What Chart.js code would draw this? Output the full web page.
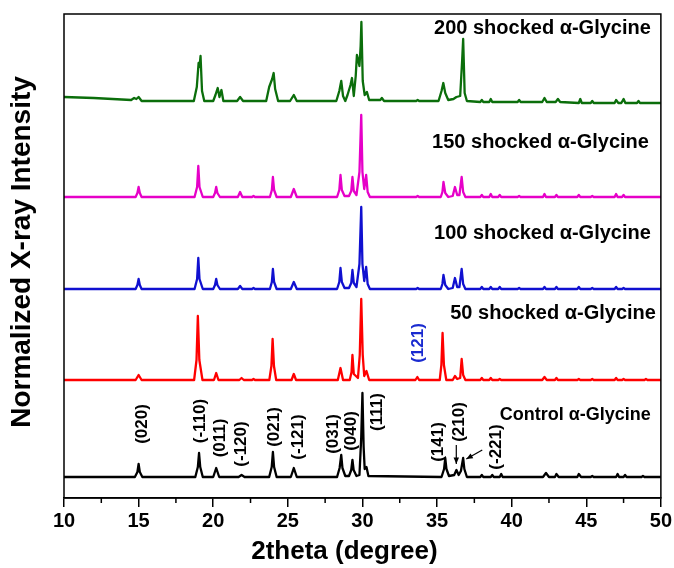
<!DOCTYPE html>
<html>
<head>
<meta charset="utf-8">
<title>XRD shocked alpha-Glycine</title>
<script src="https://cdn.jsdelivr.net/npm/chart.js"></script>
<style>
  html, body { margin: 0; padding: 0; background: #fff; }
</style>
</head>
<body>
<canvas id="xrdChart" width="674" height="568"></canvas>
<script>
// [2theta, intensity above own baseline]
const control = [[10,0],[14.75,0],[14.92,5],[15.0,13],[15.08,5],[15.25,0],
  [18.8,0],[18.97,10],[19.05,24],[19.13,10],[19.3,0],[20.0,0],[20.2,9],[20.4,0],
  [21.7,0],[21.9,2],[22.1,0],[23.75,0],[23.92,10],[24.0,25],[24.08,10],[24.25,0],
  [25.2,0],[25.4,9],[25.6,0],[28.3,0],[28.47,9],[28.58,22],[28.66,9],[28.85,1],
  [29.1,1],[29.25,7],[29.33,17],[29.41,7],[29.6,1],[29.8,2],[29.92,40],[30.0,84],
  [30.08,30],[30.15,8],[30.27,10],[30.4,1],[35.3,0],[35.47,8],[35.55,19],[35.63,8],
  [35.8,1],[36.15,2],[36.3,7],[36.45,2],[36.6,6],[36.75,19],[36.83,8],[37.0,0],
  [37.9,0],[38.0,2],[38.1,0],[38.6,0],[38.7,2],[38.8,0],[39.2,0],[39.3,3],[39.4,0],
  [42.1,0],[42.3,4],[42.5,0],[42.9,0],[43.0,3],[43.15,0],[44.4,0],[44.5,3],[44.65,0],
  [45.3,0],[45.4,1],[45.5,0],[47.0,0],[47.1,3],[47.2,0],[47.5,0],[47.6,2],[47.7,0],
  [48.7,0],[48.8,1],[48.9,0],[50,0]];

const shocked50 = [[10,0],[14.8,0],[15.0,5],[15.2,0],[18.72,0],[18.88,20],[18.97,64],
  [19.07,20],[19.28,0],[20.05,0],[20.2,7],[20.35,0],[21.75,0],[21.9,2],[22.05,0],
  [22.6,0],[22.7,1],[22.8,0],[23.76,0],[23.9,14],[23.98,41],[24.07,14],[24.22,0],
  [25.25,0],[25.4,6],[25.55,0],[28.35,0],[28.53,12],[28.7,0],[29.15,0],[29.27,8],
  [29.33,25],[29.42,6],[29.7,2],[29.82,25],[29.92,81],[30.02,25],[30.12,4],[30.27,9],
  [30.45,0],[33.55,0],[33.68,3],[33.8,0],[35.18,0],[35.29,15],[35.37,47],[35.46,15],
  [35.62,0],[36.05,0],[36.2,4],[36.35,1],[36.55,2],[36.65,21],[36.75,5],[36.9,0],
  [37.9,0],[38.0,2],[38.1,0],[38.5,0],[38.6,2],[38.7,0],[39.1,0],[39.2,1],[39.3,0],
  [42.05,0],[42.2,3],[42.35,0],[42.9,0],[43.0,2],[43.1,0],[44.4,0],[44.5,1],[44.6,0],
  [45.3,0],[45.4,1],[45.5,0],[46.9,0],[47.0,2],[47.1,0],[47.4,0],[47.5,1],[47.6,0],
  [48.9,0],[49.0,1],[49.1,0],[50,0]];

const shocked100 = [[10,0],[14.8,0],[14.92,4],[15.0,10],[15.08,4],[15.2,0],[18.75,0],
  [18.92,10],[19.0,31],[19.08,10],[19.3,0],[20.0,0],[20.12,4],[20.2,10],[20.28,4],
  [20.45,0],[21.65,0],[21.8,3],[21.95,0],[22.6,0],[22.7,1],[22.8,0],[23.8,0],
  [23.93,7],[24.0,20],[24.08,7],[24.25,0],[25.2,0],[25.4,7],[25.6,0],[28.3,0],
  [28.45,7],[28.53,21],[28.62,7],[28.8,1],[29.1,1],[29.25,6],[29.33,19],[29.42,6],
  [29.6,2],[29.8,25],[29.92,82],[30.0,25],[30.12,8],[30.25,22],[30.35,5],[30.5,0],
  [33.6,0],[33.7,1],[33.8,0],[35.25,0],[35.36,5],[35.43,14],[35.55,4],[35.75,0],
  [36.05,1],[36.2,11],[36.35,2],[36.5,2],[36.65,20],[36.75,5],[36.9,0],[37.9,0],
  [38.0,2],[38.1,0],[38.5,0],[38.6,2],[38.7,0],[39.1,0],[39.2,2],[39.3,0],[40.4,0],
  [40.5,1],[40.6,0],[42.1,0],[42.2,2],[42.3,0],[42.9,0],[43.0,2],[43.1,0],[44.4,0],
  [44.5,2],[44.6,0],[45.3,0],[45.4,1],[45.5,0],[46.9,0],[47.0,2],[47.1,0],[47.4,0],
  [47.5,1],[47.6,0],[50,0]];

const shocked150 = [[10,0],[14.8,0],[14.92,4],[15.0,10],[15.08,4],[15.2,0],[18.75,0],
  [18.92,10],[19.0,31],[19.08,10],[19.3,0],[20.0,0],[20.12,4],[20.2,10],[20.28,4],
  [20.45,0],[21.65,0],[21.8,5],[21.95,0],[22.6,0],[22.7,1],[22.8,0],[23.8,0],
  [23.93,7],[24.0,20],[24.08,7],[24.25,0],[25.2,0],[25.4,8],[25.6,0],[28.3,0],
  [28.45,7],[28.53,22],[28.62,7],[28.8,1],[29.1,1],[29.25,6],[29.33,20],[29.42,6],
  [29.6,2],[29.8,25],[29.92,82],[30.0,25],[30.12,8],[30.25,22],[30.35,5],[30.5,0],
  [33.6,0],[33.7,1],[33.8,0],[35.25,0],[35.36,5],[35.43,15],[35.55,4],[35.75,0],
  [36.05,1],[36.2,10],[36.35,2],[36.5,2],[36.65,20],[36.75,5],[36.9,0],[37.9,0],
  [38.0,2],[38.1,0],[38.5,0],[38.6,3],[38.7,0],[39.1,0],[39.2,2],[39.3,0],[40.4,0],
  [40.5,1],[40.6,0],[42.1,0],[42.2,3],[42.3,0],[42.9,0],[43.0,2],[43.1,0],[44.4,0],
  [44.5,2],[44.6,0],[45.3,0],[45.4,1],[45.5,0],[46.9,0],[47.0,3],[47.1,0],[47.4,0],
  [47.5,2],[47.6,0],[50,0]];

const shocked200 = [[10,4],[12,3],[14.5,1],[14.7,3],[14.85,2],[15.0,4],[15.2,0],
  [18.7,0],[18.9,14],[19.02,38],[19.08,34],[19.15,45],[19.25,10],[19.4,0],[20.0,0],
  [20.15,6],[20.3,13],[20.42,4],[20.55,11],[20.68,0],[21.6,0],[21.8,4],[22.0,0],
  [23.55,0],[23.75,14],[23.85,18],[23.95,22],[24.05,28],[24.15,12],[24.35,0],
  [25.15,0],[25.4,6],[25.6,0],[28.25,0],[28.45,10],[28.58,20],[28.7,5],[28.85,0],
  [29.0,6],[29.2,16],[29.3,23],[29.42,5],[29.55,25],[29.63,46],[29.7,42],[29.8,35],
  [29.88,55],[29.93,79],[30.02,20],[30.15,6],[30.3,9],[30.45,1],[31.2,1],[31.3,3],
  [31.45,0],[33.6,0],[33.7,1],[33.8,0],[35.1,0],[35.3,10],[35.42,18],[35.55,8],
  [35.75,1],[36.1,2],[36.3,4],[36.55,5],[36.68,40],[36.75,62],[36.85,8],[37.0,0],
  [37.9,-1],[38.0,1],[38.1,-1],[38.5,-1],[38.6,2],[38.7,-1],[40.4,-1],[40.5,1],
  [40.6,-1],[42.05,-1],[42.2,3],[42.35,-1],[42.95,-1],[43.1,2],[43.25,-1],[44.5,-2],
  [44.6,2],[44.7,-2],[45.3,-2],[45.4,0],[45.5,-2],[46.9,-2],[47.0,1],[47.15,-2],
  [47.35,-2],[47.5,2],[47.62,-2],[48.4,-2],[48.5,0],[48.6,-2],[50,-2]];

const seriesNames = ["Control α-Glycine", "50 shocked α-Glycine", "100 shocked α-Glycine",
  "150 shocked α-Glycine", "200 shocked α-Glycine"];
const seriesData = [control, shocked50, shocked100, shocked150, shocked200];
const offsets = [21, 118, 209, 301, 397];
const colors = ["#000000", "#ff0000", "#1010d0", "#e600c8", "#0b6e0b"];

// name label anchor: right edge x (2theta), y value
const nameX = [49.33, 49.67, 49.33, 49.2, 49.33];
const nameY = [83, 185, 265, 356, 470];

// Miller indices: text, 2theta, y value (centre of rotated text)
const millerLabels = [
  ["(020)", 15.28, 74], ["(-110)", 19.16, 77], ["(011)", 20.5, 60],
  ["(-120)", 21.91, 54], ["(021)", 24.11, 71], ["(-121)", 25.72, 61],
  ["(031)", 28.06, 64], ["(040)", 29.26, 67], ["(111)", 31.0, 86],
  ["(141)", 35.08, 56], ["(210)", 36.49, 76], ["(-221)", 38.96, 51]
];
const blueLabel = ["(121)", 33.75, 155];
// arrows: from [x, y] to [x, y]
const arrows = [[[36.29, 53], [36.29, 34]], [[38.03, 48], [36.96, 39]]];

const majorTicks = [10, 15, 20, 25, 30, 35, 40, 45, 50];
const minorTicks = [12.5, 17.5, 22.5, 27.5, 32.5, 37.5, 42.5, 47.5];

const datasets = seriesData.map((pts, i) => ({
  label: seriesNames[i],
  data: pts.map(([x, y]) => ({ x: x, y: y + offsets[i] })),
  borderColor: colors[i],
  borderWidth: 2.3,
  pointRadius: 0,
  showLine: true,
  tension: 0,
  borderJoinStyle: "round",
}));

const decorations = {
  id: "decorations",
  afterDatasetsDraw(chart) {
    const { ctx, chartArea, scales } = chart;
    const xs = scales.x, ys = scales.y;
    ctx.save();
    ctx.fillStyle = "#000";
    ctx.textBaseline = "middle";

    // series names
    seriesNames.forEach((name, i) => {
      ctx.font = (i === 0 ? "bold 18px" : "bold 20px") + " 'Liberation Sans', Arial, sans-serif";
      ctx.textAlign = "right";
      ctx.fillText(name, xs.getPixelForValue(nameX[i]), ys.getPixelForValue(nameY[i]));
    });

    // rotated Miller indices
    const drawRotated = (text, x, y, color) => {
      ctx.save();
      ctx.translate(xs.getPixelForValue(x), ys.getPixelForValue(y));
      ctx.rotate(-Math.PI / 2);
      ctx.font = "bold 17px 'Liberation Sans', Arial, sans-serif";
      ctx.textAlign = "center";
      ctx.fillStyle = color;
      ctx.fillText(text, 0, 0);
      ctx.restore();
    };
    millerLabels.forEach(([t, x, y]) => drawRotated(t, x, y, "#000"));
    drawRotated(blueLabel[0], blueLabel[1], blueLabel[2], "#1a2bd0");

    // arrows
    ctx.strokeStyle = "#000";
    ctx.lineWidth = 1.2;
    arrows.forEach(([from, to]) => {
      const x1 = xs.getPixelForValue(from[0]), y1 = ys.getPixelForValue(from[1]);
      const x2 = xs.getPixelForValue(to[0]), y2 = ys.getPixelForValue(to[1]);
      const ang = Math.atan2(y2 - y1, x2 - x1);
      ctx.beginPath();
      ctx.moveTo(x1, y1);
      ctx.lineTo(x2, y2);
      ctx.stroke();
      ctx.beginPath();
      ctx.moveTo(x2, y2);
      ctx.lineTo(x2 - 7 * Math.cos(ang - 0.4), y2 - 7 * Math.sin(ang - 0.4));
      ctx.lineTo(x2 - 7 * Math.cos(ang + 0.4), y2 - 7 * Math.sin(ang + 0.4));
      ctx.closePath();
      ctx.fill();
    });

    // frame and minor ticks
    ctx.lineWidth = 1.5;
    ctx.strokeRect(chartArea.left, chartArea.top,
      chartArea.right - chartArea.left, chartArea.bottom - chartArea.top);
    minorTicks.forEach((t) => {
      const px = xs.getPixelForValue(t);
      ctx.beginPath();
      ctx.moveTo(px, chartArea.bottom);
      ctx.lineTo(px, chartArea.bottom + 5);
      ctx.stroke();
    });

    // axis titles
    ctx.textAlign = "center";
    ctx.font = "bold 26px 'Liberation Sans', Arial, sans-serif";
    ctx.fillText("2theta (degree)", (chartArea.left + chartArea.right) / 2 - 18, chartArea.bottom + 54);

    ctx.save();
    ctx.translate(22, (chartArea.top + chartArea.bottom) / 2 - 4);
    ctx.rotate(-Math.PI / 2);
    ctx.font = "bold 28px 'Liberation Sans', Arial, sans-serif";
    ctx.fillText("Normalized X-ray Intensity", 0, 0);
    ctx.restore();

    ctx.restore();
  },
};

new Chart(document.getElementById("xrdChart"), {
  type: "scatter",
  data: { datasets },
  options: {
    responsive: false,
    animation: false,
    layout: { padding: { left: 64, right: 12, top: 14, bottom: 0 } },
    plugins: { legend: { display: false }, tooltip: { enabled: false } },
    scales: {
      x: {
        type: "linear",
        min: 10,
        max: 50,
        afterBuildTicks: (scale) => {
          scale.ticks = majorTicks.map((v) => ({ value: v }));
        },
        afterFit: (scale) => { scale.height = 70; },
        ticks: {
          color: "#000",
          padding: 2,
          maxRotation: 0,
          font: { family: "'Liberation Sans Narrow', 'Liberation Sans', Arial", size: 20, weight: "bold" },
        },
        grid: { drawOnChartArea: false, color: "#000", lineWidth: 1.5, tickLength: 9 },
        border: { display: true, color: "#000", width: 1.5 },
        title: { display: false },
      },
      y: { display: false, min: 0, max: 484 },
    },
  },
  plugins: [decorations],
});
</script>
</body>
</html>
